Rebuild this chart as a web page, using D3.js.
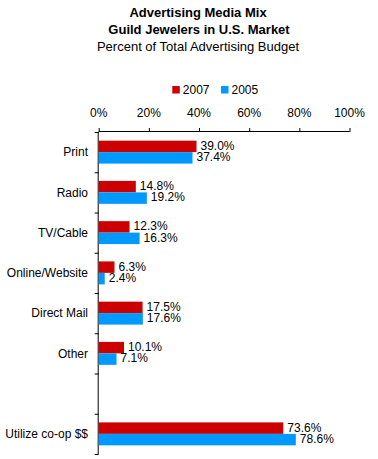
<!DOCTYPE html>
<html><head><meta charset="utf-8">
<script src="https://cdn.jsdelivr.net/npm/d3@7"></script>
<style>body{margin:0;background:#fff}svg{display:block}text{font-family:"Liberation Sans",Arial,sans-serif;fill:#000}</style>
</head><body><svg id="c" width="378" height="459"></svg>
<script>
const categories = ["Print","Radio","TV/Cable","Online/Website","Direct Mail","Other","","Utilize co-op $$"];
const values2007 = [39.0,14.8,12.3,6.3,17.5,10.1,null,73.6];
const values2005 = [37.4,19.2,16.3,2.4,17.6,7.1,null,78.6];
const seriesNames = ["2007","2005"];
const colors = ["#CC0000","#0099FF"];
const xTicks = [0,20,40,60,80,100];

(function(){
const svg = d3.select("#c");
const pLeft = 98.7, pRight = 349.5, pTop = 132, pBottom = 454;
const x = d3.scaleLinear().domain([0,100]).range([pLeft,pRight]);
const y = d3.scaleBand().domain(d3.range(categories.length)).range([pTop,pBottom]).paddingInner(0.43).paddingOuter(0.215);
const yb = d3.scaleLinear().domain([0,categories.length]).range([pTop,pBottom]);

// titles
const t = svg.append("g").attr("text-anchor","middle");
t.append("text").attr("x",198).attr("y",17).attr("font-size",13).attr("font-weight","bold").text("Advertising Media Mix");
t.append("text").attr("x",199).attr("y",34).attr("font-size",13).attr("font-weight","bold").text("Guild Jewelers in U.S. Market");
t.append("text").attr("x",198).attr("y",51).attr("font-size",13).text("Percent of Total Advertising Budget");

// legend
const legX = [172.3, 221];
seriesNames.forEach((n,i)=>{
  svg.append("rect").attr("x",legX[i]).attr("y",86).attr("width",7.5).attr("height",7.5).attr("fill",colors[i]);
  svg.append("text").attr("x",legX[i]+10.5).attr("y",94).attr("font-size",12).text(n);
});

// top axis
const ax = svg.append("g").attr("transform",`translate(0,${pTop})`)
  .call(d3.axisTop(x).tickValues(xTicks).tickSize(4).tickPadding(11).tickFormat(d=>d+"%"));
ax.selectAll("text").attr("font-size",12).attr("font-family","Liberation Sans, Arial, sans-serif").attr("fill","#000").attr("dx","-0.5");
ax.selectAll("path,line").attr("stroke","#000");
ax.select(".domain").attr("d",`M${pLeft},-0.5H${pRight}`).attr("stroke-width",1);

// left axis
const ay = svg.append("g").attr("transform",`translate(${pLeft},0)`)
  .call(d3.axisLeft(yb).tickValues(d3.range(categories.length+1)).tickSize(4).tickFormat(""));
ay.selectAll("path,line").attr("stroke","#000");
ay.select(".domain").attr("d",`M-0.5,${pTop}V${pBottom}`);

// category labels
svg.append("g").selectAll("text").data(categories).join("text")
  .attr("x",88).attr("y",(d,i)=>y(i)+y.bandwidth()/2).attr("dy","0.35em")
  .attr("text-anchor","end").attr("font-size",12).text(d=>d);

// bars
const series = [values2007, values2005];
const bh = y.bandwidth()/2;
const dys = ["0.3em","0.27em"];
series.forEach((vals,s)=>{
  const g = svg.append("g");
  vals.forEach((v,i)=>{
    if(v==null) return;
    g.append("rect").attr("x",x(0)).attr("y",y(i)+s*bh).attr("width",x(v)-x(0)).attr("height",bh).attr("fill",colors[s]);
    g.append("text").attr("x",x(v)+4).attr("y",y(i)+s*bh+bh/2).attr("dy",dys[s]).attr("font-size",12).text(v.toFixed(1)+"%");
  });
});
})();
</script></body></html>
